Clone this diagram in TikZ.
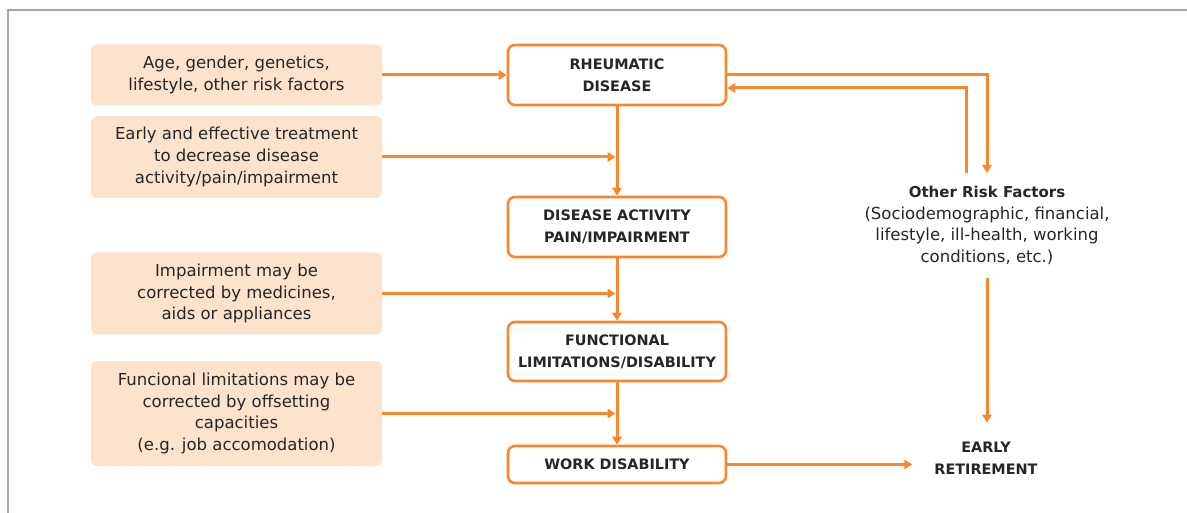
\documentclass[tikz,border=0pt]{standalone}
\usepackage{fontspec}
\setmainfont{DejaVu Sans}
\usetikzlibrary{arrows.meta}
\definecolor{org}{HTML}{F7882F}
\definecolor{peach}{HTML}{FDE2CC}
\definecolor{txt}{HTML}{262626}
\definecolor{frame}{HTML}{A6A6A6}
\begin{document}
\begin{tikzpicture}[x=1pt,y=-1pt,
  factor/.style={fill=peach, rounded corners=6pt, minimum width=291pt, inner sep=0pt,
    align=center, text=txt, font=\fontsize{16.5}{21.7}\selectfont},
  stage/.style={draw=org, line width=2.6pt, fill=white, rounded corners=7pt,
    minimum width=218pt, inner sep=0pt, align=center, text=txt,
    font=\bfseries\fontsize{14.4}{22}\selectfont},
  flow/.style={draw=org, line width=3pt, -{Triangle[length=8pt,width=9.5pt]}},
  note/.style={align=center, text=txt, font=\fontsize{16.5}{21.7}\selectfont}
]
\useasboundingbox (0,0) rectangle (1187,513);
\draw[frame, line width=2pt] (8,513) -- (8,10) -- (1187,10);

% factor boxes
\node[factor, minimum height=61pt] (f1) at (236.5,75) {Age, gender, genetics,\\lifestyle, other risk factors};
\node[factor, minimum height=82pt] (f2) at (236.5,157) {Early and effective treatment\\to decrease disease\\activity/pain/impairment};
\node[factor, minimum height=82pt] (f3) at (236.5,293.5) {Impairment may be\\corrected by medicines,\\aids or appliances};
\node[factor, minimum height=105pt] (f4) at (236.5,413.5) {Funcional limitations may be\\corrected by offsetting\\capacities\\(e.g. job accomodation)};

% stage boxes
\node[stage, minimum height=60pt] (rd) at (617,75) {RHEUMATIC\\DISEASE};
\node[stage, minimum height=60pt] (da) at (617,227) {DISEASE ACTIVITY\\PAIN/IMPAIRMENT};
\node[stage, minimum height=59pt] (fl) at (617,351.5) {FUNCTIONAL\\LIMITATIONS/DISABILITY};
\node[stage, minimum height=37pt] (wd) at (617,464.5) {WORK DISABILITY};

% right side
\node[note, inner xsep=0pt, inner ysep=13pt] (orf) at (987,225.5)
  {{\bfseries\fontsize{15}{21.7}\selectfont Other Risk Factors}\\(Sociodemographic, financial,\\lifestyle, ill-health, working\\conditions, etc.)};
\node[align=center, text=txt, font=\bfseries\fontsize{14.4}{22}\selectfont,
  inner xsep=22pt, inner ysep=19pt] (er) at (986,458) {EARLY\\RETIREMENT};

% connectors
\draw[flow] (f1.east) -- (rd.west);
\draw[flow] (rd.south) -- (da.north);
\draw[flow] (da.south) -- (fl.north);
\draw[flow] (fl.south) -- (wd.north);
\draw[flow, shorten >=1.5pt] (f2.east) -- (f2.east -| rd.south);
\draw[flow, shorten >=1.5pt] (f3.east) -- (f3.east -| rd.south);
\draw[flow, shorten >=1.5pt] (f4.east) -- (f4.east -| rd.south);
\draw[flow] (rd.east) -| (orf.north);
\draw[flow] ([xshift=-21pt]orf.north) |- ([yshift=-13pt]rd.east);
\draw[flow] (orf.south) -- (orf.south |- er.north);
\draw[flow] (wd.east) -- (wd.east -| er.west);
\end{tikzpicture}
\end{document}
